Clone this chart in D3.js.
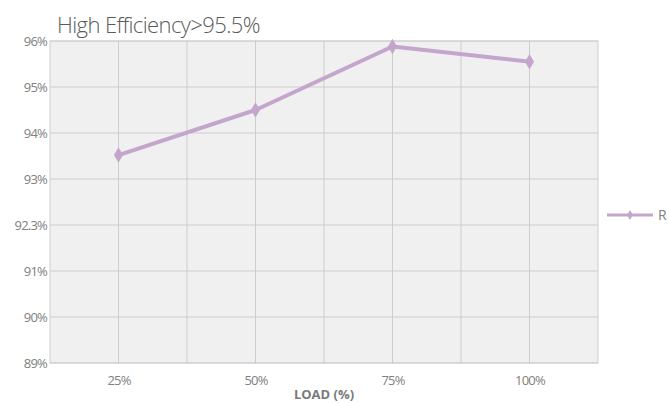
<!DOCTYPE html>
<html><head><meta charset="utf-8">
<script src="https://cdn.jsdelivr.net/npm/d3@7"></script>
<style>body{margin:0;background:#fff;}svg{display:block;}</style>
</head><body>
<script>
const categories = ["25%", "50%", "75%", "100%"];
const seriesName = "R";
const values = [93.52, 94.5, 95.88, 95.55];
const yTicks = [89, 90, 91, 92, 93, 94, 95, 96];
const yTickLabels = ["89%", "90%", "91%", "92.3%", "93%", "94%", "95%", "96%"];
const title = "High Efficiency>95.5%";
const xTitle = "LOAD (%)";

const W = 669, H = 403;
const m = {left: 50, right: 71, top: 41, bottom: 40};
const svg = d3.select("body").append("svg").attr("width", W).attr("height", H);

const x = d3.scalePoint().domain(categories).range([m.left, W - m.right]).padding(0.5);
const y = d3.scaleLinear().domain([89, 96]).range([H - m.bottom, m.top]);

const pw = W - m.right - m.left, ph = H - m.bottom - m.top;
svg.append("rect").attr("x", m.left).attr("y", m.top).attr("width", pw).attr("height", ph)
  .attr("fill", "#f0f0f0").attr("stroke", "#cfcfcf");

// vertical grid: category positions and midpoints
const step = x.step();
const vx = [];
for (let i = 1; i < categories.length * 2; i++) vx.push(m.left + i * step / 2);
svg.append("g").selectAll("line").data(vx).join("line")
  .attr("x1", d => d).attr("x2", d => d).attr("y1", m.top).attr("y2", H - m.bottom)
  .attr("stroke", "#cdcdcd").attr("stroke-width", 1);

svg.append("g").selectAll("line").data(yTicks).join("line")
  .attr("x1", m.left).attr("x2", W - m.right).attr("y1", d => y(d)).attr("y2", d => y(d))
  .attr("stroke", "#cdcdcd").attr("stroke-width", 1);

// y axis labels
const yAxis = d3.axisLeft(y).tickValues(yTicks).tickSize(0).tickPadding(3)
  .tickFormat((d, i) => yTickLabels[i]);
const gy = svg.append("g").attr("transform", `translate(${m.left},0)`).call(yAxis);
gy.select(".domain").remove();
gy.selectAll("text").attr("fill", "#808080").style("font-family", "Open Sans").style("font-size", "13px").style("letter-spacing", "-0.8px");

// x axis labels
const xAxis = d3.axisBottom(x).tickSize(0).tickPadding(13);
const gx = svg.append("g").attr("transform", `translate(0,${H - m.bottom})`).call(xAxis);
gx.select(".domain").remove();
gx.selectAll("text").attr("fill", "#808080").style("font-family", "Open Sans").style("font-size", "13px").style("letter-spacing", "-0.8px");

svg.append("text").attr("x", m.left + pw / 2).attr("y", 399).attr("text-anchor", "middle")
  .attr("fill", "#7a7a7a").style("font-family", "Open Sans").style("font-weight", "700")
  .style("font-size", "13px").text(xTitle);

svg.append("text").attr("x", 57).attr("y", 33).attr("fill", "#5a5a5a")
  .style("font-family", "Open Sans").style("font-weight", "300").style("font-size", "22px")
  .style("letter-spacing", "-0.6px").text(title);

const color = "#c4a5cc";
const line = d3.line().x((d, i) => x(categories[i])).y(d => y(d));
svg.append("path").datum(values).attr("d", line).attr("fill", "none")
  .attr("stroke", color).attr("stroke-width", 4).attr("stroke-linejoin", "round");
const diamond = d3.symbol().type(d3.symbolDiamond).size(70);
svg.append("g").selectAll("path").data(values).join("path")
  .attr("transform", (d, i) => `translate(${x(categories[i])},${y(d)})`)
  .attr("d", diamond).attr("fill", color);

// legend
const ly = 215;
svg.append("line").attr("x1", 607).attr("x2", 653).attr("y1", ly).attr("y2", ly)
  .attr("stroke", color).attr("stroke-width", 3);
svg.append("path").attr("transform", `translate(630,${ly})`)
  .attr("d", d3.symbol().type(d3.symbolDiamond).size(30)).attr("fill", color);
svg.append("text").attr("x", 658).attr("y", ly + 5).attr("fill", "#808080")
  .style("font-family", "Open Sans").style("font-size", "14px").text(seriesName);
</script>
</body></html>
